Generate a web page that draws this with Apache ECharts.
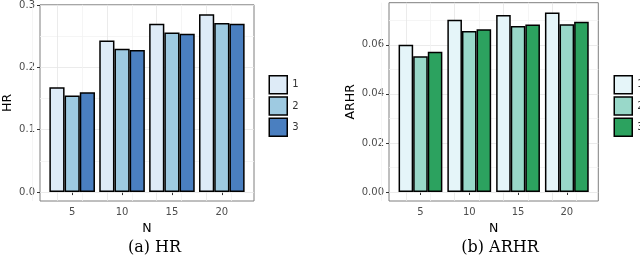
<!DOCTYPE html>
<html>
<head>
<meta charset="utf-8">
<script src="https://cdn.jsdelivr.net/npm/echarts@6/dist/echarts.min.js"></script>
<style>
html,body{margin:0;padding:0;background:#fff;}
#chart{width:640px;height:266px;}
</style>
</head>
<body>
<div id="chart"></div>
<script>
// ---- data ----
const categories = [5, 10, 15, 20];
const seriesNames = ['1', '2', '3'];
const hr1 = [0.168, 0.243, 0.270, 0.285];
const hr2 = [0.155, 0.230, 0.256, 0.271];
const hr3 = [0.160, 0.228, 0.254, 0.270];
const arhr1 = [0.0600, 0.0702, 0.0722, 0.0732];
const arhr2 = [0.0553, 0.0656, 0.0677, 0.0684];
const arhr3 = [0.0572, 0.0664, 0.0683, 0.0694];
const hrTicks = [0, 0.1, 0.2, 0.3];
const hrMinor = [0.05, 0.15, 0.25];
const arhrTicks = [0, 0.02, 0.04, 0.06];
const arhrMinor = [0.01, 0.03, 0.05, 0.07];
const xTicks = [5, 10, 15, 20];
const xMinor = [2.5, 7.5, 12.5, 17.5, 22.5];
const captions = ['(a) HR', '(b) ARHR'];

const blues = ['#deebf7', '#9ecae1', '#4a7fc0'];
const greens = ['#e5f5f9', '#99d8c9', '#2ca25f'];

const chart = echarts.init(document.getElementById('chart'), null, {renderer: 'canvas'});

function pairs(vals) { return categories.map((c, i) => [c, vals[i]]); }

function gridLines(yMaj, yMin) {
  const maj = {color: '#e6e6e6', width: 0.8, type: 'solid'};
  const min = {color: '#f2f2f2', width: 0.8, type: 'solid'};
  const d = [];
  yMaj.forEach(v => d.push({yAxis: v, lineStyle: maj}));
  yMin.forEach(v => d.push({yAxis: v, lineStyle: min}));
  xTicks.forEach(v => d.push({xAxis: v, lineStyle: maj}));
  xMinor.forEach(v => d.push({xAxis: v, lineStyle: min}));
  return {silent: true, symbol: 'none', z: 1, label: {show: false}, data: d, animation: false};
}

const tickFont = {color: '#4d4d4d', fontSize: 10, fontFamily: 'DejaVu Sans'};
const nameFont = {color: '#000', fontSize: 12.5, fontFamily: 'DejaVu Sans'};

function xAxis(gi) {
  return {
    type: 'value', gridIndex: gi, min: 1.775, max: 23.225,
    axisLine: {show: false}, splitLine: {show: false},
    axisTick: {show: true, customValues: xTicks, length: 3, lineStyle: {color: '#333', width: 1}},
    axisLabel: {show: true, customValues: xTicks, margin: 6, ...tickFont},
    name: 'N', nameLocation: 'middle', nameGap: 16, nameTextStyle: nameFont
  };
}
function yAxis(gi, min, max, ticks, dec, name, gap) {
  return {
    type: 'value', gridIndex: gi, min: min, max: max,
    axisLine: {show: false}, splitLine: {show: false},
    axisTick: {show: true, customValues: ticks, length: 3, lineStyle: {color: '#333', width: 1}},
    axisLabel: {show: true, customValues: ticks, margin: 5, formatter: v => v.toFixed(dec), ...tickFont},
    name: name, nameLocation: 'middle', nameGap: gap, nameTextStyle: nameFont
  };
}

function barSeries(name, vals, color, gi, bw, extra) {
  const s = {
    type: 'bar', name: name, xAxisIndex: gi, yAxisIndex: gi,
    data: pairs(vals), barWidth: bw, barGap: '0%',
    itemStyle: {color: color, borderColor: '#000', borderWidth: 1.5},
    z: 2
  };
  if (extra) s.markLine = extra;
  return s;
}

const hrVals = [hr1, hr2, hr3];
const arVals = [arhr1, arhr2, arhr3];
const series = [];
seriesNames.forEach((n, i) => series.push(barSeries(n, hrVals[i], blues[i], 0, 15.2, i === 0 ? gridLines(hrTicks, hrMinor) : null)));
seriesNames.forEach((n, i) => series.push(barSeries(n, arVals[i], greens[i], 1, 14.6, i === 0 ? gridLines(arhrTicks, arhrMinor) : null)));

function legend(left, colors) {
  return {
    orient: 'vertical', left: left, top: 75, padding: 0, itemWidth: 18, itemHeight: 18, itemGap: 1.7,
    icon: 'rect', selectedMode: false,
    textStyle: {color: '#333', fontSize: 10, fontFamily: 'DejaVu Sans'},
    data: seriesNames.map((n, i) => ({name: n, itemStyle: {color: colors[i], borderColor: '#000', borderWidth: 1.5}}))
  };
}

chart.setOption({
  animation: false,
  grid: [
    {left: 37, top: 2.7, width: 217, height: 198.3, show: true, borderColor: '#7f7f7f', borderWidth: 1, backgroundColor: '#fff'},
    {left: 389, top: 2.7, width: 209.3, height: 198.3, show: true, borderColor: '#7f7f7f', borderWidth: 1, backgroundColor: '#fff'}
  ],
  xAxis: [xAxis(0), xAxis(1)],
  yAxis: [
    yAxis(0, -0.0143, 0.3003, hrTicks, 1, 'HR', 26),
    yAxis(1, -0.003675, 0.077175, arhrTicks, 2, 'ARHR', 32)
  ],
  legend: [legend(268.5, blues), legend(613.5, greens)],
  series: series,
  graphic: [
    {type: 'text', x: 154.5, y: 248, style: {text: captions[0], font: '16px "DejaVu Serif"', fill: '#000', align: 'center', verticalAlign: 'middle'}},
    {type: 'text', x: 500, y: 248, style: {text: captions[1], font: '16px "DejaVu Serif"', fill: '#000', align: 'center', verticalAlign: 'middle'}}
  ]
});
</script>
</body>
</html>
